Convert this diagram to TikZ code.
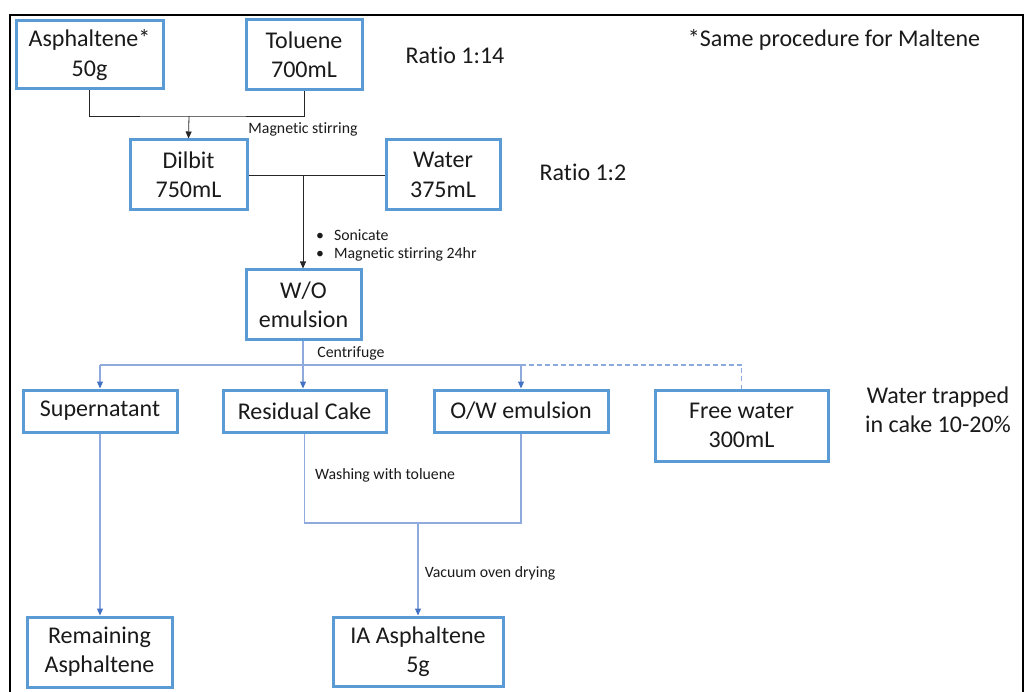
\documentclass[tikz,border=0pt]{standalone}
\usepackage{fontspec}
\setmainfont{Carlito}[Ligatures={NoCommon}]
\usetikzlibrary{arrows.meta}
\definecolor{boxblue}{HTML}{5B9BD5}
\definecolor{linkblue}{HTML}{8FAADC}
\definecolor{tipblue}{HTML}{4472C4}
\definecolor{txt}{HTML}{1A1A1A}
\tikzset{
  box/.style={draw=boxblue, line width=3pt, fill=white, align=center, inner sep=0pt,
    font=\fontsize{24}{29.3}\selectfont, text=txt},
  big/.style={align=center, inner sep=0pt, font=\fontsize{24}{29.3}\selectfont, text=txt},
  small/.style={align=left, inner sep=0pt, font=\fontsize{15.8}{19}\selectfont, text=txt},
  blk/.style={draw=black!85, line width=0.8pt},
  blkarrow/.style={blk, -{Triangle[width=6pt,length=7pt]}},
  blu/.style={draw=linkblue, line width=1.1pt},
  bluarrow/.style={blu, -{Triangle[width=6pt,length=7pt,color=tipblue]}},
  bludash/.style={blu, dash pattern=on 5pt off 3pt},
}
\begin{document}
\begin{tikzpicture}[x=1pt,y=-1pt]
\useasboundingbox (0,0) rectangle (1025,692);
\draw[line width=2pt, black] (10,700) -- (10,15) -- (1023,15) -- (1023,700);

% boxes
\node[box, minimum width=147pt, minimum height=68pt] (asph) at (89.5,55) {Asphaltene*\\50g};
\node[box, minimum width=116pt, minimum height=70pt] (tol) at (304,55) {Toluene\\700mL};
\node[box, minimum width=117pt, minimum height=70pt] (dil) at (188.5,175) {Dilbit\\750mL};
\node[box, minimum width=114pt, minimum height=70pt] (wat) at (443,175) {Water\\375mL};
\node[box, minimum width=115pt, minimum height=70pt] (wo) at (303.5,305) {W/O\\emulsion};
\node[box, minimum width=154pt, minimum height=42pt] (sup) at (100,411) {Supernatant};
\node[box, minimum width=163pt, minimum height=42pt] (res) at (304.5,411) {Residual Cake};
\node[box, minimum width=174pt, minimum height=42pt] (ow) at (521,411) {O/W emulsion};
\node[box, minimum width=173pt, minimum height=71pt] (fw) at (741.5,425.5) {Free water\\300mL};
\node[box, minimum width=145pt, minimum height=70pt] (rem) at (99.5,652) {Remaining\\Asphaltene};
\node[box, minimum width=170pt, minimum height=69pt] (ia) at (418,651.5) {IA Asphaltene\\5g};

% free texts
\node[big] (r14) at (455,55) {Ratio 1:14};
\node[big] (r12) at (583,172) {Ratio 1:2};
\node[big] (note) at (834,40) {*Same procedure for Maltene};
\node[big] (trap) at (938,410) {Water trapped\\in cake 10-20\%};

\node[small] (lmag) at (303,129) {Magnetic stirring};
\node[small, anchor=west] (lson) at (316,235) {\textbullet\hspace{10pt}Sonicate};
\node[small, anchor=west] (lmag24) at (316,254) {\textbullet\hspace{10pt}Magnetic stirring 24hr};
\node[small] (lcen) at (351,353) {Centrifuge};
\node[small] (lwash) at (385,475) {Washing with toluene};
\node[small] (lvac) at (490,573) {Vacuum oven drying};

% coordinates
\coordinate (j1) at (189,116);
\coordinate (j2) at (303,175);
\coordinate (j3) at (303,365);
\coordinate (j4) at (418,523);

% top connectors
\draw[blk] (asph.south) |- (j1) -| (tol.south);
\draw[blkarrow] (j1) -- (dil.north);
\draw[blk] (dil.east |- j2) -- (wat.west |- j2);
\draw[blkarrow] (j2) -- (j2 |- wo.north);

% centrifuge connectors
\draw[bluarrow] (wo.south -| j3) -- (j3 |- res.north);
\draw[blu] (sup.north |- j3) -- (ow.north |- j3);
\draw[bluarrow] (sup.north |- j3) -- (sup.north);
\draw[bluarrow] (ow.north |- j3) -- (ow.north);
\draw[bludash] (ow.north |- j3) -| (fw.north);

% lower connectors
\draw[bluarrow] (sup.south) -- (sup.south |- rem.north);
\draw[blu] (res.south) |- (j4) -| (ow.south);
\draw[bluarrow] (j4) -- (j4 |- ia.north);
\end{tikzpicture}
\end{document}
